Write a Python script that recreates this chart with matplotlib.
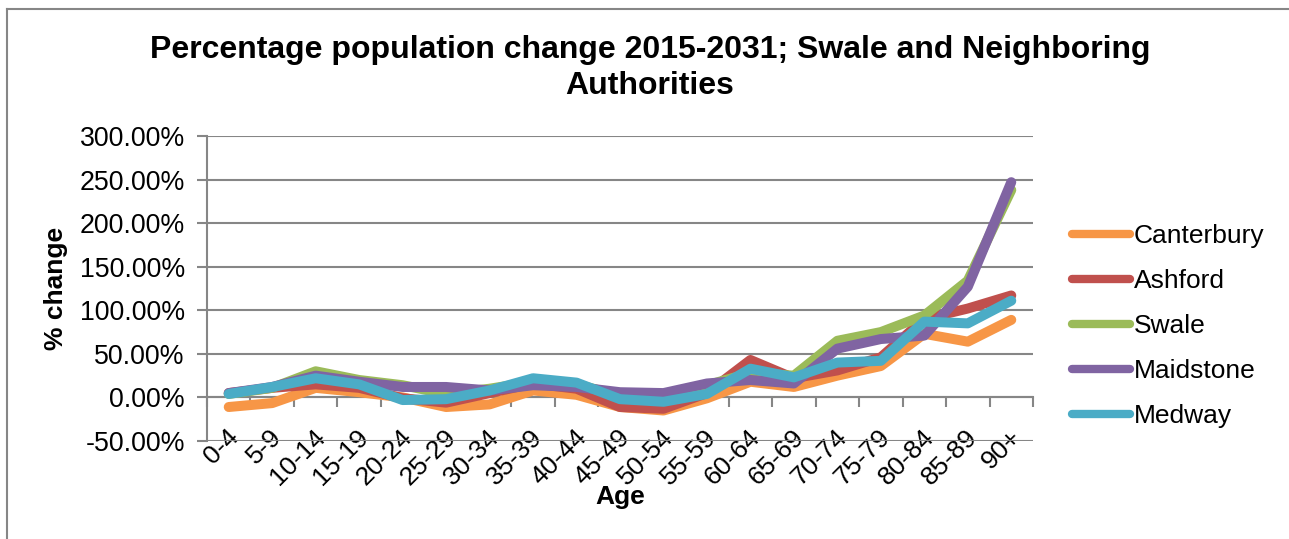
import matplotlib
matplotlib.use("Agg")
import matplotlib.pyplot as plt
from matplotlib.ticker import FuncFormatter
from matplotlib.lines import Line2D
from matplotlib.transforms import ScaledTranslation

plt.rcParams['font.family'] = ['Liberation Sans', 'DejaVu Sans']

ages = ["0-4", "5-9", "10-14", "15-19", "20-24", "25-29", "30-34", "35-39", "40-44",
        "45-49", "50-54", "55-59", "60-64", "65-69", "70-74", "75-79", "80-84", "85-89", "90+"]

canterbury = [-11, -6.5, 11, 6, 0, -11, -8, 8, 3, -11, -15, -1, 18, 12, 25, 36, 73, 64, 89]
ashford    = [5, 11, 15, 11, -1, -6, 5, 16, 10, -11, -13, 5, 43, 22, 31, 46, 90, 102, 117]
swale      = [4, 11, 30, 20, 14, 4, 10, 18, 15, 2, 0, 14, 28, 25, 65, 75, 94, 134, 238]
maidstone  = [5, 12, 25, 18, 12, 12, 8, 14, 12, 6, 5, 16, 20, 16, 56, 67, 71, 127, 247]
medway     = [4, 12, 22, 15, -3, -2, 8, 22, 17, -2, -5, 4, 33, 23, 40, 42, 87, 85, 111]

series = [("Canterbury", canterbury, "#F79646"),
          ("Ashford", ashford, "#C0504D"),
          ("Swale", swale, "#9BBB59"),
          ("Maidstone", maidstone, "#8064A2"),
          ("Medway", medway, "#4BACC6")]

GREY = '#868686'
W, H = 1289, 539
fig = plt.figure(figsize=(W/100, H/100), dpi=100)
ax = fig.add_axes([207/W, 1-441/H, (1033-207)/W, (441-136)/H])

x = list(range(len(ages)))
for name, vals, col in series:
    ax.plot(x, vals, color=col, lw=7.2, solid_capstyle='round', solid_joinstyle='round', label=name)

ymin, ymax = -50, 300
ax.set_xlim(-0.5, len(ages)-0.5)
ax.set_ylim(ymin, ymax)
ax.set_yticks(range(ymin, ymax + 1, 50))
ax.yaxis.set_major_formatter(FuncFormatter(lambda v, p: f"{v:.2f}%"))
ax.grid(axis='y', color=GREY, lw=1.5)
ax.set_axisbelow(True)
for s in ['top', 'right', 'bottom']:
    ax.spines[s].set_visible(False)
ax.spines['left'].set_color(GREY)
ax.spines['left'].set_linewidth(1.5)

# category labels at bottom
ax.set_xticks(x)
ax.set_xticklabels(ages, rotation=45, ha='right', va='center', rotation_mode='anchor', fontsize=19)
ax.tick_params(axis='x', which='major', length=0, pad=0)
off = ScaledTranslation(0.06, 0.08, fig.dpi_scale_trans)
for lab in ax.get_xticklabels():
    lab.set_transform(lab.get_transform() + off)

# category axis crossing at 0 with tick marks between categories
sec = ax.secondary_xaxis((0 - ymin) / (ymax - ymin))
sec.set_xticks([i + 0.5 for i in range(-1, len(ages))])
sec.tick_params(axis='x', length=7, color=GREY, width=1.5, labelbottom=False)
sec.spines['bottom'].set_color(GREY)
sec.spines['bottom'].set_linewidth(1.5)

ax.tick_params(axis='y', length=7, color=GREY, width=1.5, labelsize=19.3, pad=9)

ax.set_ylabel("% change", fontsize=19, fontweight='bold', labelpad=8)
ax.set_xlabel("Age", fontsize=19, fontweight='bold', va='center')
ax.xaxis.set_label_coords((620-207)/(1033-207), -(497-441)/(441-136))

fig.suptitle("Percentage population change 2015-2031; Swale and Neighboring\nAuthorities",
             x=650/W, y=1-35/H, fontsize=23, fontweight='bold', va='top', linespacing=1.28)

leg = fig.legend(loc='center left', bbox_to_anchor=(1072/W, 1-326/H), frameon=False,
                 fontsize=19, handlelength=2.2, handletextpad=0.15, labelspacing=0.8,
                 borderpad=0, borderaxespad=0)
for l in leg.get_lines():
    l.set_linewidth(6)

fig.add_artist(Line2D([7/W, 7/W], [0, 1-9/H], transform=fig.transFigure, color=GREY, lw=1.5))
fig.add_artist(Line2D([7/W, 1], [1-9/H, 1-9/H], transform=fig.transFigure, color=GREY, lw=1.5))

fig.savefig("out.png", dpi=100, facecolor='white')
